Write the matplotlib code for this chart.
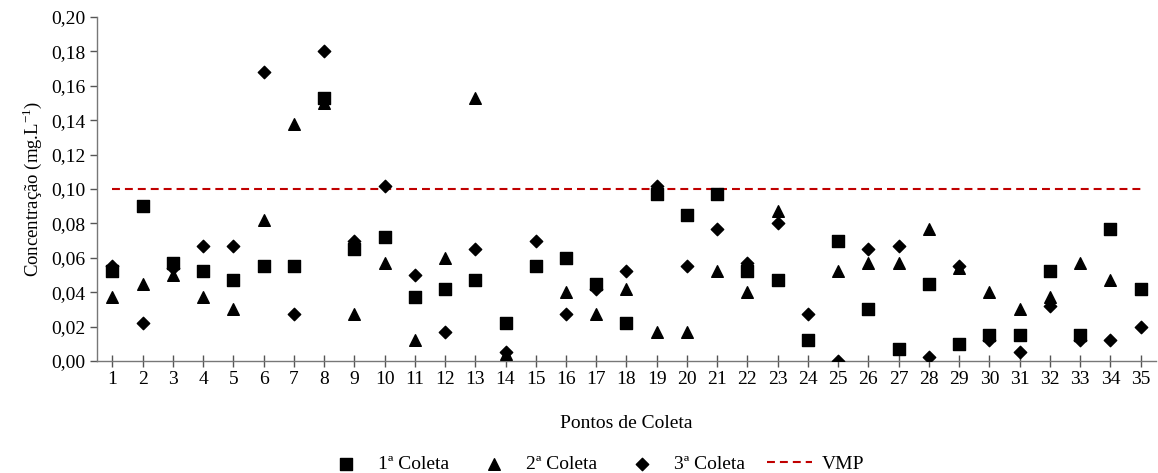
import matplotlib
matplotlib.use('Agg')
import matplotlib.pyplot as plt
from matplotlib.ticker import FuncFormatter

plt.rcParams['font.family'] = 'serif'
plt.rcParams['font.serif'] = ['Liberation Serif', 'DejaVu Serif']
plt.rcParams['mathtext.fontset'] = 'custom'
plt.rcParams['mathtext.rm'] = 'Liberation Serif'

# pontos de coleta e concentrações (mg/L)
pontos = list(range(1, 36))
coleta1 = [0.052, 0.090, 0.057, 0.052, 0.047, 0.055, 0.055, 0.153, 0.065, 0.072,
           0.037, 0.042, 0.047, 0.022, 0.055, 0.060, 0.045, 0.022, 0.097, 0.085,
           0.097, 0.052, 0.047, 0.012, 0.070, 0.030, 0.007, 0.045, 0.010, 0.015,
           0.015, 0.052, 0.015, 0.077, 0.042]
coleta2 = [0.037, 0.045, 0.050, 0.037, 0.030, 0.082, 0.138, 0.150, 0.027, 0.057,
           0.012, 0.060, 0.153, 0.004, 0.055, 0.040, 0.027, 0.042, 0.017, 0.017,
           0.052, 0.040, 0.087, 0.012, 0.052, 0.057, 0.057, 0.077, 0.054, 0.040,
           0.030, 0.037, 0.057, 0.047, 0.042]
coleta3 = [0.055, 0.022, 0.054, 0.067, 0.067, 0.168, 0.027, 0.180, 0.070, 0.102,
           0.050, 0.017, 0.065, 0.005, 0.070, 0.027, 0.042, 0.052, 0.102, 0.055,
           0.077, 0.057, 0.080, 0.027, 0.000, 0.065, 0.067, 0.002, 0.055, 0.012,
           0.005, 0.032, 0.012, 0.012, 0.020]
vmp = 0.10
y_ticks = [0.00, 0.02, 0.04, 0.06, 0.08, 0.10, 0.12, 0.14, 0.16, 0.18, 0.20]

fig = plt.figure(figsize=(11.58, 4.73), dpi=100)
ax = fig.add_axes([0.084, 0.237, 0.914, 0.727])

ax.scatter(pontos, coleta2, marker='^', s=70, color='black', zorder=3, label='2ª Coleta')
ax.scatter(pontos, coleta1, marker='s', s=64, color='black', zorder=4, label='1ª Coleta')
ax.scatter(pontos, coleta3, marker='D', s=40, color='black', zorder=5, label='3ª Coleta')
ax.plot([pontos[0], pontos[-1]], [vmp, vmp], color='#C00000', linestyle=(0, (3.8, 2.4)),
        linewidth=1.5, zorder=2, label='VMP')

ax.set_xlim(0.5, 35.5)
ax.set_ylim(0, 0.20)
ax.set_xticks(pontos)
ax.set_yticks(y_ticks)
ax.yaxis.set_major_formatter(FuncFormatter(lambda v, p: f'{v:.2f}'.replace('.', ',')))
ax.tick_params(axis='x', direction='inout', length=9, width=1, color='#555555',
               labelsize=14, pad=3)
ax.tick_params(axis='y', direction='out', length=5, width=1, color='#555555',
               labelsize=14)

for s in ['top', 'right']:
    ax.spines[s].set_visible(False)
for s in ['left', 'bottom']:
    ax.spines[s].set_color('#777777')
    ax.spines[s].set_linewidth(1)

ax.set_xlabel('Pontos de Coleta', fontsize=14, labelpad=19)
ax.set_ylabel('Concentração (mg.L$^{\\mathrm{-1}}$)', fontsize=13.5, labelpad=5)

handles, labels = ax.get_legend_handles_labels()
order = [1, 0, 2, 3]
fig.legend([handles[i] for i in order], [labels[i] for i in order],
           loc='center', bbox_to_anchor=(0.513, 0.018), ncol=4, frameon=False,
           fontsize=14, handlelength=2.3, columnspacing=1.15, handletextpad=0.5)

plt.savefig('out.png', dpi=100)
plt.close()
